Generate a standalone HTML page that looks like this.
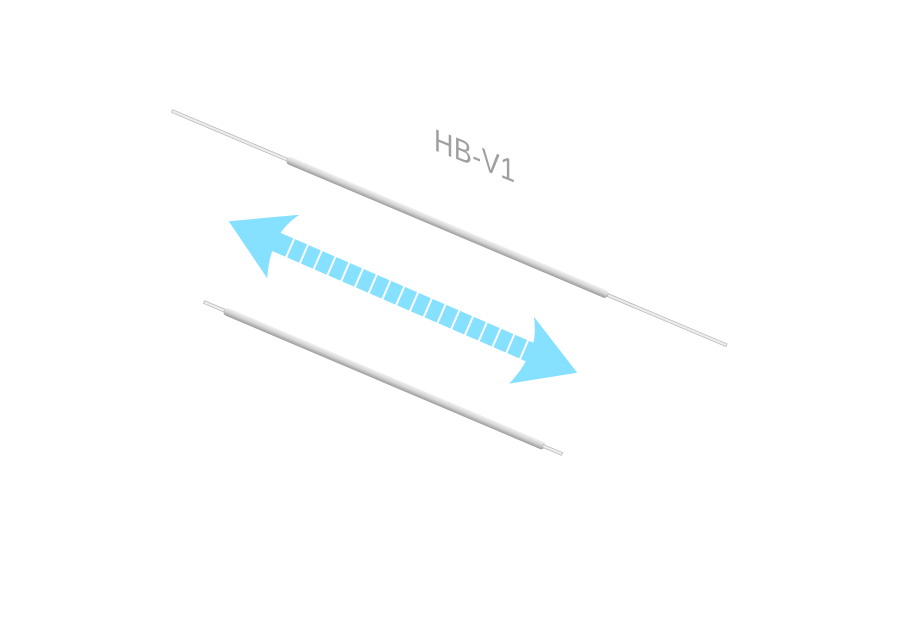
<!DOCTYPE html>
<html><head><meta charset="utf-8"><style>
html,body{margin:0;padding:0;background:#fff;width:900px;height:640px;overflow:hidden}
</style></head><body>
<svg width="900" height="640" viewBox="0 0 900 640" xmlns="http://www.w3.org/2000/svg">
<defs>
<linearGradient id="rod" x1="0" y1="0" x2="0" y2="1">
<stop offset="0" stop-color="#f2f2f2"/><stop offset="0.5" stop-color="#d4d4d4"/><stop offset="1" stop-color="#9a9a9a"/>
</linearGradient>
</defs>
<g transform="translate(172,111) rotate(22.9)">
<rect x="0" y="-1.5" width="125" height="3" fill="#ececec" stroke="#aaa" stroke-width="0.6"/>
<rect x="125" y="-4" width="348" height="8" rx="3" fill="url(#rod)"/>
<rect x="473" y="-1.5" width="129" height="3" fill="#ececec" stroke="#aaa" stroke-width="0.6"/>
</g>
<g transform="translate(204,302) rotate(23)">
<rect x="0" y="-1.5" width="22" height="3" fill="#ececec" stroke="#aaa" stroke-width="0.6"/>
<rect x="22" y="-4" width="348" height="8" rx="3" fill="url(#rod)"/>
<rect x="368" y="-1.5" width="21" height="3" fill="#ececec" stroke="#aaa" stroke-width="0.6"/>
</g>
<g transform="translate(403,297) rotate(23.5)" fill="#86e0ff">
<path d="M-190,0 L-128,-34 Q-140,-14 -138,0 Q-140,14 -132,37 Z"/>
<path d="M190,0 L128,-34 Q140,-14 138,0 Q140,14 132,37 Z"/>
<rect x="-140" y="-10" width="280" height="20"/>
<g stroke="#fff" stroke-width="2">
<line x1="-123" y1="-11" x2="-123" y2="11"/><line x1="-108" y1="-11" x2="-108" y2="11"/>
<line x1="-93" y1="-11" x2="-93" y2="11"/><line x1="-78" y1="-11" x2="-78" y2="11"/>
<line x1="-63" y1="-11" x2="-63" y2="11"/><line x1="-48" y1="-11" x2="-48" y2="11"/>
<line x1="-33" y1="-11" x2="-33" y2="11"/><line x1="-18" y1="-11" x2="-18" y2="11"/>
<line x1="-3" y1="-11" x2="-3" y2="11"/><line x1="12" y1="-11" x2="12" y2="11"/>
<line x1="27" y1="-11" x2="27" y2="11"/><line x1="42" y1="-11" x2="42" y2="11"/>
<line x1="57" y1="-11" x2="57" y2="11"/><line x1="72" y1="-11" x2="72" y2="11"/>
<line x1="87" y1="-11" x2="87" y2="11"/><line x1="102" y1="-11" x2="102" y2="11"/>
<line x1="117" y1="-11" x2="117" y2="11"/><line x1="132" y1="-11" x2="132" y2="11"/>
</g>
</g>
<text x="0" y="0" transform="translate(434,150) rotate(22) skewX(22)" font-family="Liberation Sans, sans-serif" font-size="29" fill="#a0a0a0" letter-spacing="0.5">HB-V1</text>
</svg>
</body></html>
